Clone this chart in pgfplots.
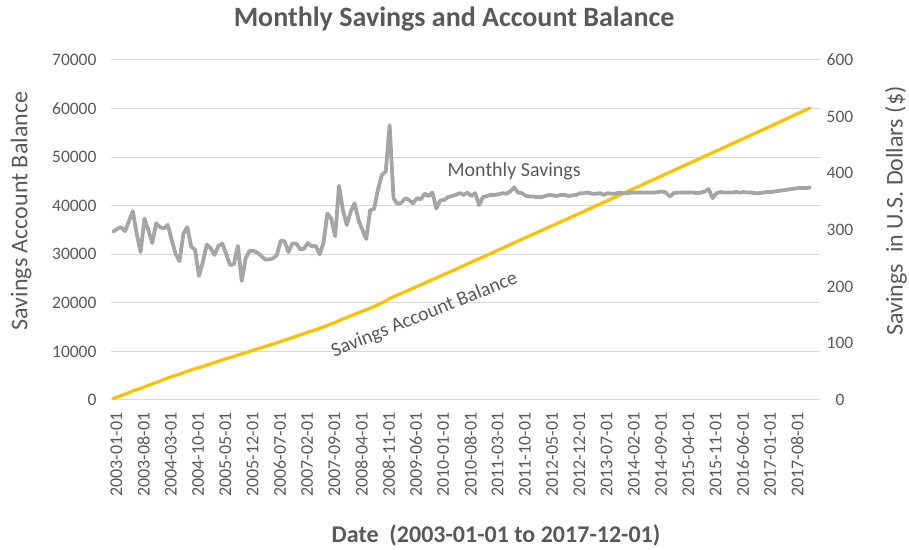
\documentclass[border=0pt]{standalone}
\usepackage{pgfplots}
\pgfplotsset{compat=1.18}
\usepackage{pgfplotstable}
\usepackage{fontspec}
\setmainfont{Carlito}
\definecolor{txt}{HTML}{595959}
\definecolor{gridc}{HTML}{D9D9D9}
\definecolor{savc}{HTML}{A5A5A5}
\definecolor{balc}{HTML}{FFC000}

\pgfplotstableread{
i sav bal
0 297 297
1 302 599
2 305 904
3 298 1202
4 315 1517
5 333 1850
6 294 2144
7 261 2405
8 320 2725
9 300 3025
10 277 3302
11 312 3614
12 305 3919
13 303 4222
14 309 4531
15 282 4813
16 258 5071
17 245 5316
18 293 5609
19 305 5914
20 271 6185
21 265 6450
22 219 6669
23 243 6912
24 274 7186
25 268 7454
26 256 7710
27 272 7982
28 276 8258
29 258 8516
30 238 8754
31 240 8994
32 272 9266
33 210 9476
34 250 9726
35 263 9989
36 263 10252
37 260 10512
38 254 10766
39 248 11014
40 248 11262
41 250 11512
42 255 11767
43 281 12048
44 280 12328
45 261 12589
46 276 12865
47 276 13141
48 266 13407
49 267 13674
50 277 13951
51 271 14222
52 272 14494
53 257 14751
54 277 15028
55 329 15357
56 320 15677
57 289 15966
58 378 16344
59 335 16679
60 309 16988
61 332 17320
62 347 17667
63 318 17985
64 300 18285
65 284 18569
66 335 18904
67 337 19241
68 371 19612
69 397 20009
70 403 20412
71 485 20897
72 356 21253
73 346 21599
74 348 21947
75 356 22303
76 353 22656
77 347 23003
78 356 23359
79 354 23713
80 364 24077
81 360 24437
82 366 24803
83 338 25141
84 352 25493
85 353 25846
86 358 26204
87 360 26564
88 362 26926
89 365 27291
90 362 27653
91 366 28019
92 360 28379
93 365 28744
94 344 29088
95 358 29446
96 360 29806
97 362 30168
98 362 30530
99 363 30893
100 365 31258
101 364 31622
102 368 31990
103 375 32365
104 366 32731
105 365 33096
106 360 33456
107 359 33815
108 359 34174
109 358 34532
110 358 34890
111 360 35250
112 362 35612
113 361 35973
114 360 36333
115 362 36695
116 362 37057
117 360 37417
118 361 37778
119 362 38140
120 365 38505
121 365 38870
122 366 39236
123 364 39600
124 364 39964
125 365 40329
126 362 40691
127 365 41056
128 364 41420
129 364 41784
130 366 42150
131 365 42515
132 365 42880
133 366 43246
134 366 43612
135 366 43978
136 366 44344
137 366 44710
138 366 45076
139 366 45442
140 367 45809
141 368 46177
142 366 46543
143 359 46902
144 365 47267
145 366 47633
146 366 47999
147 366 48365
148 366 48731
149 366 49097
150 365 49462
151 366 49828
152 368 50196
153 372 50568
154 356 50924
155 365 51289
156 367 51656
157 366 52022
158 366 52388
159 366 52754
160 367 53121
161 366 53487
162 367 53854
163 366 54220
164 366 54586
165 365 54951
166 365 55316
167 366 55682
168 367 56049
169 367 56416
170 368 56784
171 369 57153
172 370 57523
173 371 57894
174 372 58266
175 373 58639
176 374 59013
177 374 59387
178 374 59761
179 375 60136
}\datatable

\begin{document}
\begin{tikzpicture}[x=1bp,y=1bp]
\path[use as bounding box] (0,0) rectangle (909,550);
\pgfplotsset{
  common/.style={
    at={(111bp,150bp)}, anchor=south west,
    scale only axis, width=709bp, height=340bp,
    xmin=-0.6, xmax=181.6,
    axis line style={draw=none},
    tick style={draw=none},
    scaled y ticks=false,
    /pgf/number format/1000 sep={},
    /pgf/number format/assume math mode=true,
    ticklabel style={font=\fontsize{17.5bp}{20bp}\selectfont, text=txt},
    clip=false,
  }
}
\begin{axis}[common,
  ymin=0, ymax=70000,
  ytick={0,10000,...,70000},
  ymajorgrids, grid style={draw=gridc, line width=1bp},
  xtick={0,7,...,175},
  xticklabels={2003-01-01,2003-08-01,2004-03-01,2004-10-01,2005-05-01,2005-12-01,2006-07-01,2007-02-01,2007-09-01,2008-04-01,2008-11-01,2009-06-01,2010-01-01,2010-08-01,2011-03-01,2011-10-01,2012-05-01,2012-12-01,2013-07-01,2014-02-01,2014-09-01,2015-04-01,2015-11-01,2016-06-01,2017-01-01,2017-08-01},
  xticklabel style={yshift=-9bp, xshift=3bp, rotate=90, anchor=east, font=\fontsize{18bp}{20bp}\selectfont},
  yticklabel style={xshift=-11bp},
]
\addplot[balc, line width=3.2bp, line cap=round, line join=round] table[x=i, y=bal] {\datatable};
\node[rotate=22, text=txt, font=\fontsize{20bp}{22bp}\selectfont, inner sep=1bp] at (axis cs:80,17500) {Savings Account Balance};
\end{axis}
\begin{axis}[common,
  ymin=0, ymax=600,
  ytick={0,100,...,600},
  axis y line*=right,
  hide x axis,
  yticklabel style={anchor=center, xshift=20bp},
]
\addplot[savc, line width=3.8bp, line cap=round, line join=round] table[x=i, y=sav] {\datatable};
\node[text=txt, font=\fontsize{20bp}{22bp}\selectfont] at (axis cs:103,404) {Monthly Savings};
\end{axis}
\node[text=txt, font=\fontsize{28bp}{32bp}\selectfont\bfseries] at (454,531) {Monthly Savings and Account Balance};
\node[text=txt, font=\fontsize{24bp}{28bp}\selectfont, rotate=90] at (21,339) {Savings Account Balance};
\node[text=txt, font=\fontsize{24bp}{28bp}\selectfont, rotate=90] at (896,339) {Savings \ in U.S. Dollars (\$)};
\node[text=txt, font=\fontsize{24bp}{28bp}\selectfont\bfseries] at (496,15) {Date \ (2003-01-01 to 2017-12-01)};
\end{tikzpicture}
\end{document}
